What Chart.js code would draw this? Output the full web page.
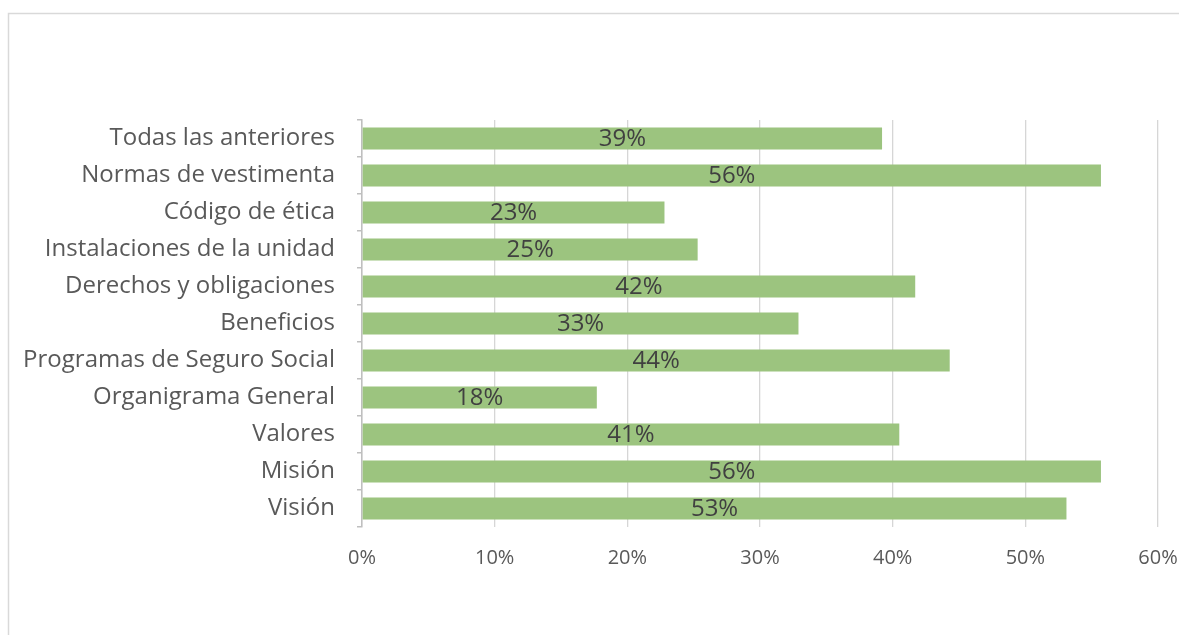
<!DOCTYPE html>
<html>
<head>
<meta charset="utf-8">
<script src="https://cdn.jsdelivr.net/npm/chart.js@4/dist/chart.umd.min.js"></script>
<style>
  html, body { margin: 0; padding: 0; background: #fff; overflow: hidden; }
  #wrap { position: relative; width: 1179px; height: 635px; }
</style>
</head>
<body>
<div id="wrap"><canvas id="chart" width="1179" height="635"></canvas></div>
<script>
// Survey items, listed top to bottom
const categories = [
  'Todas las anteriores',
  'Normas de vestimenta',
  'Código de ética',
  'Instalaciones de la unidad',
  'Derechos y obligaciones',
  'Beneficios',
  'Programas de Seguro Social',
  'Organigrama General',
  'Valores',
  'Misión',
  'Visión'
];

// Share of respondents (%)
const percentages = [39.2, 55.7, 22.8, 25.3, 41.7, 32.9, 44.3, 17.7, 40.5, 55.7, 53.1];

// Horizontal axis range and step (%)
const axisMin = 0;
const axisMax = 60;
const axisStep = 10;

const FONT = "'Open Sans', sans-serif";

// Thin frame around the chart
const framePlugin = {
  id: 'frame',
  beforeDraw(chart) {
    const ctx = chart.ctx;
    ctx.save();
    ctx.strokeStyle = '#d9d9d9';
    ctx.lineWidth = 1.5;
    ctx.beginPath();
    ctx.moveTo(8.5, chart.height + 2);
    ctx.lineTo(8.5, 13.5);
    ctx.lineTo(chart.width + 2, 13.5);
    ctx.stroke();
    ctx.restore();
  }
};

// Value labels centred on each bar
const valueLabels = {
  id: 'valueLabels',
  afterDatasetsDraw(chart) {
    const ctx = chart.ctx;
    const meta = chart.getDatasetMeta(0);
    ctx.save();
    ctx.font = '24px ' + FONT;
    ctx.fillStyle = '#404040';
    ctx.textAlign = 'center';
    ctx.textBaseline = 'middle';
    meta.data.forEach((bar, i) => {
      const v = chart.data.datasets[0].data[i];
      const cx = (bar.x + bar.base) / 2;
      ctx.fillText(Math.round(v) + '%', cx, bar.y + 1);
    });
    ctx.restore();
  }
};

new Chart(document.getElementById('chart'), {
  type: 'bar',
  data: {
    labels: categories,
    datasets: [{
      data: percentages,
      backgroundColor: '#9cc47f',
      borderWidth: 0,
      categoryPercentage: 0.6,
      barPercentage: 1.0
    }]
  },
  options: {
    indexAxis: 'y',
    responsive: false,
    animation: false,
    events: [],
    layout: { padding: { top: 120, right: 21, bottom: 0, left: 0 } },
    plugins: {
      legend: { display: false },
      tooltip: { enabled: false }
    },
    scales: {
      x: {
        type: 'linear',
        min: axisMin,
        max: axisMax,
        z: 1,
        border: { display: false },
        grid: { color: 'rgba(0,0,0,0.16)', lineWidth: 1.3, drawTicks: false },
        ticks: {
          stepSize: axisStep,
          padding: 19,
          maxRotation: 0,
          color: '#595959',
          font: { family: FONT, size: 20 },
          callback: v => v + '%'
        },
        afterFit(scale) {
          scale.height = 108;
          scale.paddingLeft = 0;
          scale.paddingRight = 0;
        }
      },
      y: {
        type: 'category',
        border: { display: true, color: '#bfbfbf', width: 1.5 },
        grid: {
          offset: true,
          drawOnChartArea: false,
          drawTicks: true,
          tickLength: 5,
          color: '#bfbfbf',
          lineWidth: 1.5
        },
        ticks: {
          padding: 22,
          color: '#595959',
          font: { family: FONT, size: 24 }
        },
        afterFit(scale) { scale.width = 362; }
      }
    }
  },
  plugins: [framePlugin, valueLabels]
});
</script>
</body>
</html>
